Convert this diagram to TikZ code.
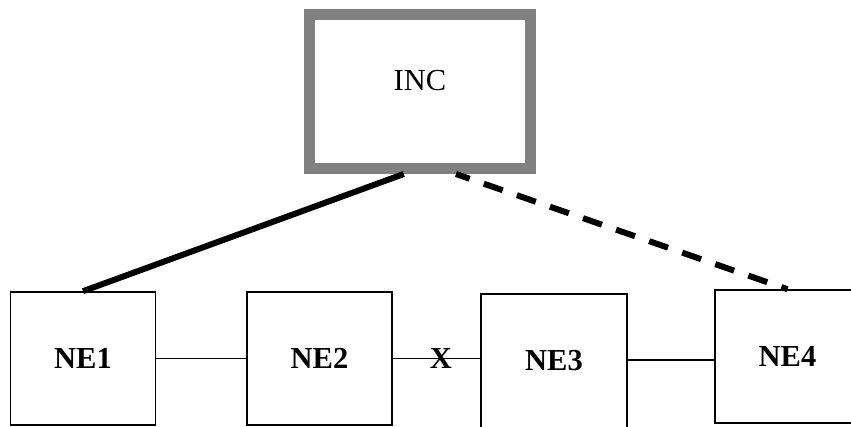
\documentclass[tikz,border=0pt]{standalone}
\usepackage{fontspec}
\setmainfont{Liberation Serif}
\usetikzlibrary{calc}
\begin{document}
\begin{tikzpicture}[x=1pt,y=-1pt,
  nebox/.style={draw=black, line width=1.6pt, minimum width=145pt, minimum height=133pt, inner sep=0pt, font=\fontsize{30.5}{30.5}\selectfont\bfseries},
  incbox/.style={draw={rgb,255:red,128;green,128;blue,128}, line width=11pt, minimum width=221pt, minimum height=154pt, inner sep=0pt},
  lbl/.style={font=\fontsize{30.5}{30.5}\selectfont, inner sep=0pt},
  thin link/.style={line width=1.6pt},
  solid link/.style={line width=6pt},
  dash link/.style={line width=6pt, dash pattern=on 20pt off 15pt, dash phase=5.5pt}]
\useasboundingbox (0,0) rectangle (851,426);
\clip (0,0) rectangle (851,426);
\fill[white] (0,0) rectangle (851,426);
% boxes
\node[incbox] (inc) at (420,91.5) {};
\node[lbl] (inclabel) at (420,81) {INC};
\node[nebox] (ne1) at (83,358.5) {NE1};
\node[nebox] (ne2) at (319.5,358.5) {NE2};
\node[nebox, minimum width=146pt, minimum height=134pt] (ne3) at (554,361) {NE3};
\node[nebox] (ne4) at (787.5,356.5) {NE4};
% links between NEs
\draw[thin link] (ne1.east) -- (ne1.east -| ne2.west);
\draw[thin link] (ne2.east) -- node[pos=0.55, lbl, font=\fontsize{30.5}{30.5}\selectfont\bfseries] (x) {X} (ne2.east -| ne3.west);
\draw[thin link] (ne3.east |- 0,360) coordinate (c3) -- (c3 -| ne4.west);
% links to INC
\draw[solid link] (ne1.north) -- ($(inc.south west)!0.43!(inc.south east)$);
\draw[dash link] ($(inc.south west)!0.655!(inc.south east)$) -- (ne4.north);
\end{tikzpicture}
\end{document}
